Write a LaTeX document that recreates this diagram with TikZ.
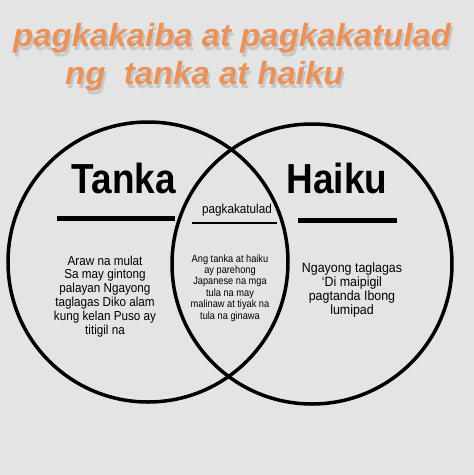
\documentclass[tikz,border=0pt]{standalone}
\usepackage{fontspec}
\setmainfont{Liberation Sans}
\usepackage{xcolor}
\definecolor{bggray}{HTML}{E4E4E4}
\definecolor{titleorange}{HTML}{E9925C}
\tikzset{
  vennline/.style = {line width = 3.5pt, black},
  headbar/.style = {line width = 5pt, black},
  titletext/.style = {inner sep = 0pt, anchor = base west, text = titleorange, xscale = 1.03,
    font = \fontsize{32}{36}\selectfont\bfseries\itshape},
  titleshadow/.style = {titletext, text = black, opacity = .12},
  headtext/.style = {inner sep = 0pt, anchor = base, xscale = .88,
    font = \fontsize{42}{46}\selectfont\bfseries},
  bodytext/.style = {inner sep = 0pt, anchor = base, align = center}
}
\begin{document}
\begin{tikzpicture}[x = 1pt, y = -1pt]
        \fill[bggray] (0,0) rectangle (474,475);
        \useasboundingbox (0,0) rectangle (474,475);
        \draw[vennline] (148,262) circle[radius = 140];
        \draw[vennline] (312,264) circle[radius = 140];
        % title with soft shadow
        \node[titleshadow] (shadowA) at (15,50){pagkakaiba at pagkakatulad};
        \node[titleshadow] (shadowB) at (67,88){ng\ \ tanka at haiku};
        \node[titletext] (titleA) at (13,46){pagkakaiba at pagkakatulad};
        \node[titletext] (titleB) at (65,84){ng\ \ tanka at haiku};
        \node[headtext] (tanka) at (124,193){Tanka};
        \node[headtext] (haiku) at (337,193){Haiku};
        \coordinate (tankaL) at (57,218);
        \coordinate (tankaR) at (175,218);
        \coordinate (haikuL) at (298,220);
        \coordinate (haikuR) at (397,220);
        \draw[headbar] (tankaL) -- (tankaR);
        \draw[headbar] (haikuL) -- (haikuR);
        \node[bodytext, xscale = .9, font = \fontsize{13}{15}\selectfont] (common) at (237,213){pagkakatulad};
        \coordinate (commonL) at (192,223);
        \coordinate (commonR) at (277,223);
        \draw[line width = 1.5pt] (commonL) -- (commonR);
        \node[bodytext, xscale = .88, font = \fontsize{10.5}{11.4}\selectfont] (middle) at (230,319){Ang tanka at haiku\\ay parehong\\Japanese na mga\\tula na may\\malinaw at tiyak na\\tula na ginawa};
        \node[bodytext, xscale = .9, font = \fontsize{13}{13.8}\selectfont] (left) at (105,334){Araw na mulat\\Sa may gintong\\palayan Ngayong\\taglagas Diko alam\\kung kelan Puso ay\\titigil na};
        \node[bodytext, xscale = .92, font = \fontsize{13.5}{13.7}\selectfont] (right) at (352,314){Ngayong taglagas\\`Di maipigil\\pagtanda Ibong\\lumipad};
    \end{tikzpicture}
\end{document}
